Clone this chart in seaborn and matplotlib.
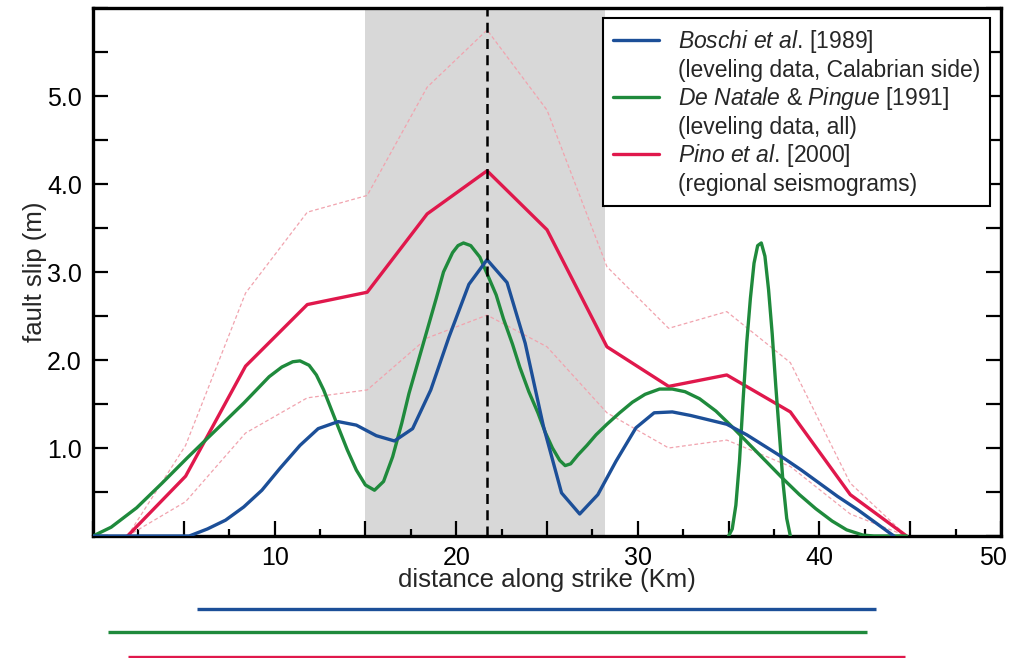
import matplotlib
matplotlib.use("Agg")
import matplotlib.pyplot as plt
import matplotlib.transforms as mtransforms
from matplotlib.lines import Line2D
from matplotlib.mathtext import MathTextParser
from matplotlib.ticker import MultipleLocator, FuncFormatter
import pandas as pd
import seaborn as sns

# ---- slip models (distance along strike in km, slip in m) ----
boschi_x = [0.0, 5.3, 6.3, 7.3, 8.3, 9.3, 10.3, 11.4, 12.4, 13.5, 14.5, 15.6,
            16.6, 17.6, 18.6, 19.6, 20.7, 21.7, 22.8, 23.8, 24.8, 25.8, 26.8,
            27.8, 28.8, 29.9, 30.9, 31.9, 32.9, 33.9, 34.9, 36.0, 37.0, 38.0,
            39.0, 40.0, 41.0, 42.1, 43.1, 44.1]
boschi_y = [0.0, 0.0, 0.08, 0.18, 0.33, 0.52, 0.77, 1.03, 1.22, 1.30, 1.26, 1.14,
            1.08, 1.22, 1.66, 2.26, 2.86, 3.14, 2.88, 2.19, 1.25, 0.49, 0.25,
            0.47, 0.85, 1.23, 1.40, 1.41, 1.37, 1.32, 1.27, 1.15, 1.02, 0.89,
            0.75, 0.60, 0.45, 0.30, 0.15, 0.0]

denatale_x = [0.0, 1.0, 2.4, 3.8, 5.2, 6.6, 8.3, 9.7, 10.4, 11.0, 11.4, 11.9,
              12.3, 12.7, 13.1, 13.5, 14.0, 14.5, 15.0, 15.5, 16.0, 16.5, 17.0,
              17.4, 17.9, 18.4, 18.9, 19.3, 19.8, 20.1, 20.4, 20.8, 21.3, 21.7, 22.2,
              22.6, 23.1, 23.5, 24.0, 24.5, 24.9, 25.3, 25.7, 26.0, 26.3, 26.7,
              27.2, 27.7, 28.3, 29.0, 29.7, 30.4, 31.2, 31.9, 32.6, 33.4, 34.3,
              35.2, 36.1, 37.1, 38.0, 38.9, 39.8, 40.7, 41.5, 42.4, 43.0, 44.8]
denatale_y = [0.0, 0.10, 0.32, 0.60, 0.89, 1.17, 1.51, 1.81, 1.92, 1.98, 1.99, 1.94,
              1.83, 1.66, 1.45, 1.24, 0.98, 0.75, 0.58, 0.52, 0.62, 0.90, 1.28,
              1.62, 1.98, 2.34, 2.70, 3.00, 3.22, 3.30, 3.33, 3.30, 3.17, 2.98, 2.74,
              2.47, 2.18, 1.92, 1.64, 1.40, 1.18, 1.00, 0.86, 0.80, 0.82, 0.92,
              1.03, 1.15, 1.27, 1.40, 1.52, 1.61, 1.67, 1.67, 1.64, 1.56, 1.42,
              1.24, 1.05, 0.84, 0.65, 0.47, 0.31, 0.17, 0.07, 0.01, 0.0, 0.0]

# isolated slip patch of the De Natale & Pingue model
patch_x = [35.0, 35.2, 35.4, 35.6, 35.8, 36.0, 36.2, 36.4, 36.6, 36.8, 37.0,
           37.2, 37.4, 37.6, 37.8, 38.0, 38.2, 38.4]
patch_y = [0.0, 0.08, 0.35, 0.85, 1.55, 2.20, 2.70, 3.10, 3.30, 3.33, 3.18,
           2.80, 2.30, 1.70, 1.15, 0.60, 0.20, 0.0]

pino_x = [1.9, 5.1, 8.4, 11.8, 15.1, 18.4, 21.7, 25.0, 28.3, 31.7, 34.9, 38.4, 41.7, 44.8]
pino_y = [0.0, 0.68, 1.93, 2.63, 2.77, 3.66, 4.15, 3.48, 2.15, 1.70, 1.83, 1.41, 0.47, 0.0]
pino_upper = [0.0, 1.03, 2.76, 3.68, 3.87, 5.10, 5.75, 4.84, 3.06, 2.36, 2.55, 1.97, 0.60, 0.0]
pino_lower = [0.0, 0.39, 1.17, 1.57, 1.66, 2.25, 2.51, 2.15, 1.40, 1.00, 1.09, 0.79, 0.25, 0.0]

# fault segment and hypocentre position (km)
shade_range = [15.0, 28.2]
hypocentre_x = 21.7

# along-strike extent covered by each model (km)
extent_boschi = [5.7, 43.1]
extent_denatale = [0.8, 42.6]
extent_pino = [1.9, 44.7]

x_tick_labels = ["10", "20", "30", "40", "50"]
y_tick_labels = ["1.0", "2.0", "3.0", "4.0", "5.0"]

BLUE = "#1c4f98"
GREEN = "#1f8a3c"
RED = "#e0184c"
PINK = "#f1a3ae"

sns.set_style("ticks")
plt.rcParams["font.family"] = ["Liberation Sans", "DejaVu Sans"]
plt.rcParams["mathtext.fontset"] = "custom"
plt.rcParams["mathtext.rm"] = "Liberation Sans"
plt.rcParams["mathtext.it"] = "Liberation Sans:italic"


def italic_ok(s):
    try:
        MathTextParser("path").parse(s)
        return True
    except Exception:
        return False


fig = plt.figure(figsize=(10.1, 6.58), dpi=100)
ax = fig.add_axes([93 / 1010, 122 / 658, 908 / 1010, 528 / 658])

ax.axvspan(shade_range[0], shade_range[1], color="#d8d8d8", lw=0, zorder=0)

bounds = pd.DataFrame({"x": pino_x, "upper": pino_upper, "lower": pino_lower})
for col in ["upper", "lower"]:
    sns.lineplot(data=bounds, x="x", y=col, ax=ax, color=PINK, lw=0.9,
                 sort=False, estimator=None, zorder=2)
    ax.lines[-1].set_linestyle((0, (3, 2)))

sns.lineplot(x=pino_x, y=pino_y, ax=ax, color=RED, lw=2.4, sort=False,
             estimator=None, zorder=3)
sns.lineplot(x=denatale_x, y=denatale_y, ax=ax, color=GREEN, lw=2.4, sort=False,
             estimator=None, zorder=3)
sns.lineplot(x=patch_x, y=patch_y, ax=ax, color=GREEN, lw=2.4, sort=False,
             estimator=None, zorder=3)
sns.lineplot(x=boschi_x, y=boschi_y, ax=ax, color=BLUE, lw=2.4, sort=False,
             estimator=None, zorder=3)

ax.axvline(hypocentre_x, color="black", lw=1.8, ls=(0, (4, 2.5)), zorder=4)

ax.set_xlim(0, 50)
ax.set_ylim(0, 6.0)

ax.xaxis.set_major_locator(MultipleLocator(5))
ax.xaxis.set_minor_locator(MultipleLocator(2.5))
ax.xaxis.set_major_formatter(FuncFormatter(
    lambda v, p: x_tick_labels[int(round(v / 10)) - 1]
    if (v > 0 and abs(v / 10 - round(v / 10)) < 1e-6) else ""))
ax.yaxis.set_major_locator(MultipleLocator(1.0))
ax.yaxis.set_minor_locator(MultipleLocator(0.5))
ax.yaxis.set_major_formatter(FuncFormatter(
    lambda v, p: y_tick_labels[int(round(v)) - 1]
    if 1 <= round(v) <= 5 and abs(v - round(v)) < 1e-6 else ""))

ax.tick_params(axis="both", which="both", direction="in", width=1.6, labelsize=18,
               colors="black")
ax.tick_params(axis="x", which="major", length=11, pad=7, top=False)
ax.tick_params(axis="x", which="minor", length=5, top=False)
ax.tick_params(axis="y", which="both", length=11, pad=8, right=True)

for s in ax.spines.values():
    s.set_linewidth(2.4)
    s.set_color("black")

ax.set_xlabel("distance along strike (Km)", fontsize=18.5, labelpad=-1)
ax.set_ylabel("fault slip (m)", fontsize=18.5, labelpad=0)
ax.set_facecolor("white")

# keep the last x tick label inside the figure
fig.canvas.draw()
for lbl in ax.get_xticklabels():
    if lbl.get_text() == "50":
        lbl.set_transform(lbl.get_transform() +
                          mtransforms.ScaledTranslation(-8 / 100, 0, fig.dpi_scale_trans))

# model coverage bars below the axis
trans = mtransforms.blended_transform_factory(ax.transData, ax.transAxes)
for ext, col, yf in [(extent_boschi, BLUE, -0.138), (extent_denatale, GREEN, -0.182),
                     (extent_pino, RED, -0.229)]:
    ax.plot(ext, [yf, yf], color=col, lw=2.4, transform=trans, clip_on=False,
            solid_capstyle="butt")

dnp = r"$\mathit{De\ Natale\ &\ Pingue}$ [1991]"
if not italic_ok(dnp):
    dnp = r"$\mathit{De\ Natale}$ & $\mathit{Pingue}$ [1991]"

handles = [Line2D([], [], color=BLUE, lw=2.4), Line2D([], [], color="none"),
           Line2D([], [], color=GREEN, lw=2.4), Line2D([], [], color="none"),
           Line2D([], [], color=RED, lw=2.4), Line2D([], [], color="none")]
labels = [r"$\mathit{Boschi\ et\ al.}\,$[1989]",
          "(leveling data, Calabrian side)",
          dnp,
          "(leveling data, all)",
          r"$\mathit{Pino\ et\ al.}\,$[2000]",
          "(regional seismograms)"]
leg = ax.legend(handles, labels, loc="upper right", bbox_to_anchor=(0.988, 0.981),
                borderaxespad=0, fontsize=16.5, frameon=True, fancybox=False,
                handlelength=2.0, handletextpad=0.8, labelspacing=0.15,
                borderpad=0.45)
leg.get_frame().set_edgecolor("black")
leg.get_frame().set_linewidth(1.5)
leg.get_frame().set_alpha(1)
leg.set_zorder(6)

fig.savefig("out.png", dpi=100, facecolor="white")
